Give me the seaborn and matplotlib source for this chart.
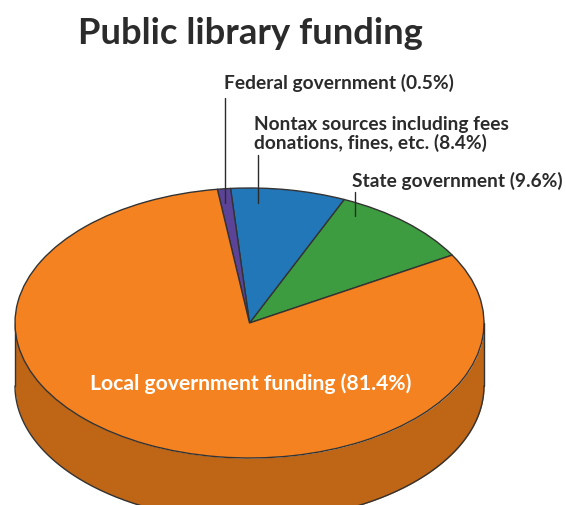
import numpy as np
import matplotlib
matplotlib.use("Agg")
import matplotlib.pyplot as plt
import seaborn as sns

# slice shares as drawn in the picture (the printed labels differ a little)
slice_names = ["State", "Nontax", "Federal", "Local"]
slice_shares = [10.0, 7.9, 0.9, 81.2]
slice_colors = ["#3C9C3F", "#2277B8", "#5B4397", "#F58220"]
side_color = "#BF6516"
edge_color = "#333333"

title_text = "Public library funding"
federal_label = "Federal government (0.5%)"
nontax_label = "Nontax sources including fees\ndonations, fines, etc. (8.4%)"
state_label = "State government (9.6%)"
local_label = "Local government funding (81.4%)"

sns.set_theme(style="white")
plt.rcParams["font.family"] = ["Lato", "DejaVu Sans"]

W, H = 566, 506
cx, cy, rx, ry, depth = 249.5, 324, 234.5, 135, 63

fig = plt.figure(figsize=(W / 100, H / 100), dpi=100)
ax = fig.add_axes([0, 0, 1, 1])

# pie on a unit circle, the axes limits squash it to an ellipse
ax.pie(slice_shares, colors=slice_colors, startangle=30.2, radius=1,
       wedgeprops={"edgecolor": edge_color, "linewidth": 1.0, "zorder": 3})
ax.set_aspect("auto")
ax.set_xlim(-cx / rx, (W - cx) / rx)
ax.set_ylim((cy - H) / ry, cy / ry)
ax.axis("off")

# side of the disc
d = depth / ry
t = np.linspace(np.pi, 2 * np.pi, 300)
ax.fill_between(np.cos(t), np.sin(t) - d, np.sin(t), color=side_color, lw=0, zorder=1)
ax.plot(np.cos(t), np.sin(t) - d, color=edge_color, lw=1.0, zorder=2)
ax.plot([-1, -1], [0, -d], color=edge_color, lw=1.0, zorder=2)
ax.plot([1, 1], [0, -d], color=edge_color, lw=1.0, zorder=2)

# overlay in pixel coordinates for text and leader lines
top = fig.add_axes([0, 0, 1, 1])
top.set_xlim(0, W)
top.set_ylim(H, 0)
top.axis("off")
top.patch.set_alpha(0)

ink = "#2B2B2B"
top.text(78, 33, title_text, fontsize=26.2, fontweight="bold", color=ink, va="center", ha="left")
top.text(224, 83, federal_label, fontsize=13.8, fontweight="bold", color=ink, va="center", ha="left")
top.text(254, 134, nontax_label, fontsize=13.8, fontweight="bold", color=ink, va="center", ha="left",
         linespacing=1.0)
top.text(352, 181, state_label, fontsize=13.8, fontweight="bold", color=ink, va="center", ha="left")
top.text(250.5, 384, local_label, fontsize=15.2, fontweight="bold", color="white", va="center", ha="center")

top.plot([224.7, 224.7], [99, 204], color=ink, lw=1.0)
top.plot([258.3, 258.3], [156, 204], color=ink, lw=1.0)
top.plot([355.3, 355.3], [193, 217], color=ink, lw=1.0)

fig.savefig("out.png", dpi=100)
